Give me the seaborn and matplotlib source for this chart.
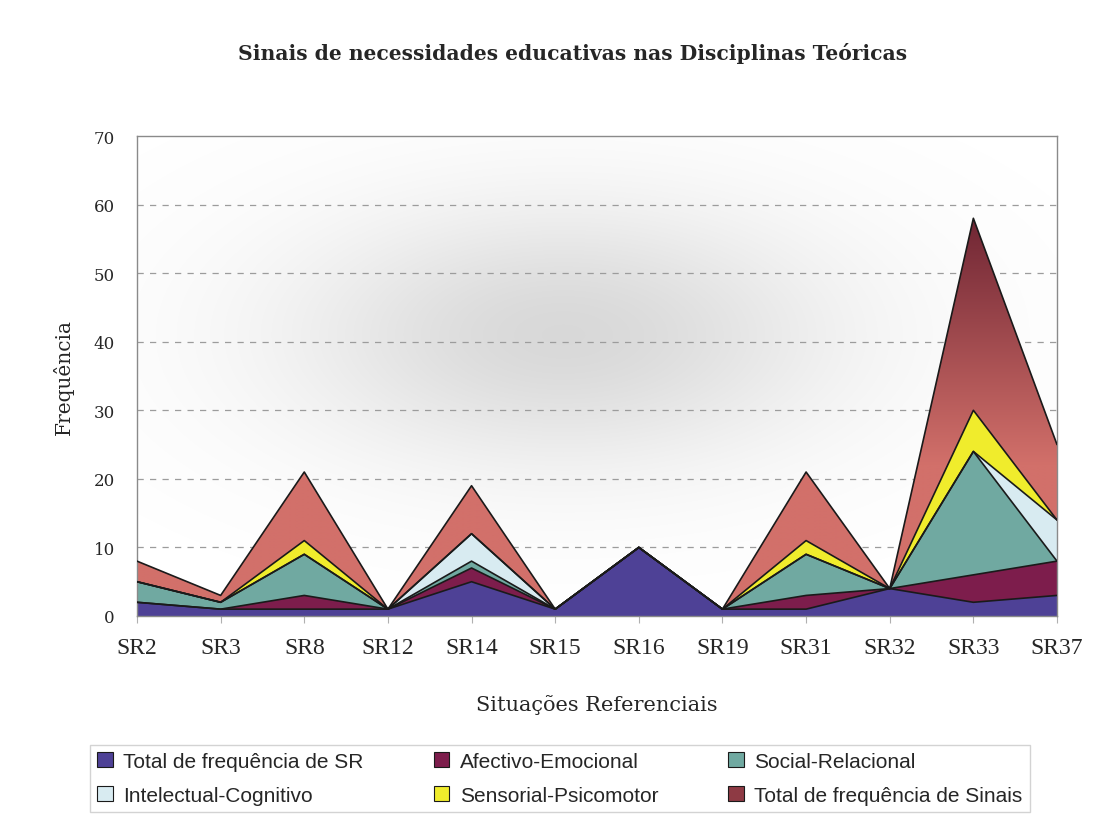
import numpy as np
import pandas as pd
import matplotlib
matplotlib.use("Agg")
import matplotlib.pyplot as plt
from matplotlib.patches import Patch
import seaborn as sns

# Situações referenciais (eixo x)
categories = ["SR2", "SR3", "SR8", "SR12", "SR14", "SR15",
              "SR16", "SR19", "SR31", "SR32", "SR33", "SR37"]

# Frequências por série (empilhadas de baixo para cima)
total_sr = [2, 1, 1, 1, 5, 1, 10, 1, 1, 4, 2, 3]
afectivo = [0, 0, 2, 0, 2, 0, 0, 0, 2, 0, 4, 5]
social = [3, 1, 6, 0, 1, 0, 0, 0, 6, 0, 18, 0]
intelectual = [0, 0, 0, 0, 4, 0, 0, 0, 0, 0, 0, 6]
sensorial = [0, 0, 2, 0, 0, 0, 0, 0, 2, 0, 6, 0]
total_sinais = [3, 1, 10, 0, 7, 0, 0, 0, 10, 0, 28, 11]

series_names = ["Total de frequência de SR", "Afectivo-Emocional",
                "Social-Relacional", "Intelectual-Cognitivo",
                "Sensorial-Psicomotor", "Total de frequência de Sinais"]
series_values = [total_sr, afectivo, social, intelectual, sensorial, total_sinais]
series_colors = ["#4e4196", "#7d1d4c", "#70a9a1", "#d8ebf1", "#f0ec2c", "#d2706a"]

y_ticks = [0, 10, 20, 30, 40, 50, 60, 70]

sns.set_theme(style="white")

x = np.arange(len(categories))
stack = np.cumsum(np.array(series_values, dtype=float), axis=0)

fig = plt.figure(figsize=(11.13, 8.2), dpi=100)
ax = fig.add_axes([137 / 1113, 1 - 617 / 820, 920 / 1113, 480 / 820])

# soft grey shading in the middle of the plot area
gx, gy = np.meshgrid(np.linspace(0, 11, 400), np.linspace(0, 70, 300))
alpha = 0.30 * np.exp(-0.5 * ((gx - 5.1) / 2.3) ** 2 - 0.5 * ((gy - 41) / 13.5) ** 2)
haze = np.zeros(gx.shape + (4,))
haze[..., :3] = 0.5
haze[..., 3] = alpha
ax.imshow(haze, extent=(0, 11, 0, 70), origin="lower", aspect="auto",
          zorder=0, interpolation="bilinear")

# dashed horizontal grid
for v in y_ticks[1:-1]:
    ax.axhline(v, color="#9c9c9c", lw=0.9, ls=(0, (5, 5)), zorder=1)

# stacked areas
lower = np.zeros(len(categories))
fills = []
for i, (name, col) in enumerate(zip(series_names, series_colors)):
    f = ax.fill_between(x, lower, stack[i], facecolor=col, edgecolor="none",
                        zorder=2 + i * 0.01)
    fills.append(f)
    lower = stack[i]

# the top band darkens towards its peak: vertical gradient clipped to the band
top_light = np.array([210, 112, 106]) / 255
top_dark = np.array([112, 38, 52]) / 255
gy2 = np.linspace(0, 70, 400)
w = np.clip((gy2 - 22) / (58 - 22), 0, 1)[:, None]
grad = np.zeros((400, 2, 3))
grad[:] = (top_light * (1 - w) + top_dark * w)[:, None, :]
im = ax.imshow(grad, extent=(0, 11, 0, 70), origin="lower", aspect="auto",
               zorder=2.06, interpolation="bilinear")
im.set_clip_path(fills[-1].get_paths()[0], transform=ax.transData)

# outlines of each stacked boundary
long = pd.DataFrame({
    "x": np.tile(x, len(series_names)),
    "y": stack.ravel(),
    "layer": np.repeat(series_names, len(categories)),
})
sns.lineplot(data=long, x="x", y="y", units="layer", estimator=None,
             color="#1a1a1a", lw=1.2, ax=ax, zorder=3, legend=False)

ax.set_xlim(0, 11)
ax.set_ylim(0, 70)
ax.set_xticks(x)
ax.set_xticklabels(categories, fontfamily="Liberation Serif", fontsize=17)
ax.set_yticks(y_ticks)
ax.set_yticklabels([str(v) for v in y_ticks], fontfamily="DejaVu Serif", fontsize=12)
ax.tick_params(axis="x", length=5, width=0.8, color="#b0b0b0", pad=10, bottom=True)
ax.tick_params(axis="y", length=0, pad=16)
for s in ax.spines.values():
    s.set_color("#8a8a8a")
    s.set_linewidth(1.0)
ax.set_xlabel("Situações Referenciais", fontfamily="DejaVu Serif", fontsize=15,
              labelpad=26)
ax.set_ylabel("Frequência", fontfamily="DejaVu Serif", fontsize=14.5, labelpad=14)

fig.text(0.514, 1 - 53 / 820, "Sinais de necessidades educativas nas Disciplinas Teóricas",
         ha="center", va="center", fontfamily="DejaVu Serif", fontweight="bold",
         fontsize=14.6)

handles = [Patch(facecolor=c, edgecolor="#1a1a1a", lw=0.8) for c in series_colors]
handles[-1] = Patch(facecolor="#8e3a44", edgecolor="#1a1a1a", lw=0.8)
order = [0, 3, 1, 4, 2, 5]
leg = fig.legend([handles[i] for i in order], [series_names[i] for i in order],
                 ncol=3, loc="lower left", mode="expand",
                 bbox_to_anchor=(90 / 1113, 1 - 813 / 820, 940 / 1113, 70 / 820),
                 borderaxespad=0, frameon=True, fancybox=False,
                 handlelength=0.75, handleheight=0.75, handletextpad=0.5,
                 labelspacing=0.7, borderpad=0.35,
                 prop={"family": "Liberation Sans", "size": 15})
leg.get_frame().set_edgecolor("#c8c8c8")
leg.get_frame().set_linewidth(1.0)

fig.savefig("out.png", dpi=100, facecolor="white")
